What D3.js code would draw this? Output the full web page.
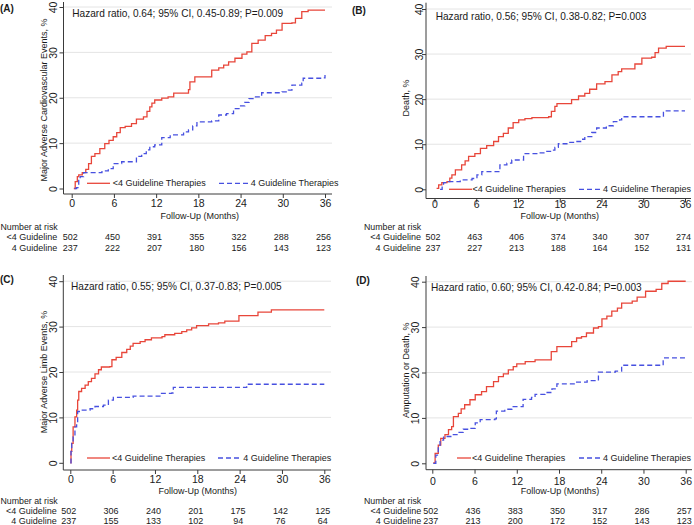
<!DOCTYPE html>
<html>
<head>
<meta charset="utf-8">
<script src="https://cdn.jsdelivr.net/npm/d3@7"></script>
<style>
  html, body { margin: 0; padding: 0; background: #ffffff; }
  svg { display: block; }
  text { font-family: "Liberation Sans", Arial, Helvetica, sans-serif; fill: #1a1a1a; }
</style>
</head>
<body>
<svg id="chart" width="694" height="525"></svg>
<script>
// ---------------- DATA ----------------
const months = [0, 6, 12, 18, 24, 30, 36];
const yTicks = [0, 10, 20, 30, 40];
const panelLabels = ["(A)", "(B)", "(C)", "(D)"];
const yTitles = [
  "Major Adverse Cardiovascular Events, %",
  "Death, %",
  "Major Adverse Limb Events, %",
  "Amputation or Death, %"
];
const xTitle = "Follow-Up (Months)";
const hazardTexts = [
  "Hazard ratio, 0.64; 95% CI, 0.45-0.89; P=0.009",
  "Hazard ratio, 0.56; 95% CI, 0.38-0.82; P=0.003",
  "Hazard ratio, 0.55; 95% CI, 0.37-0.83; P=0.005",
  "Hazard ratio, 0.60; 95% CI, 0.42-0.84; P=0.003"
];
const seriesNames = ["<4 Guideline Therapies", "4 Guideline Therapies"];
const riskTitle = "Number at risk";
const riskRowLabels = ["<4 Guideline", "4 Guideline"];

// Numbers at risk (per panel, per group) at months 0..36
const riskLess4A = [502, 450, 391, 355, 322, 288, 256];
const riskFourA  = [237, 222, 207, 180, 156, 143, 123];
const riskLess4B = [502, 463, 406, 374, 340, 307, 274];
const riskFourB  = [237, 227, 213, 188, 164, 152, 131];
const riskLess4C = [502, 306, 240, 201, 175, 142, 125];
const riskFourC  = [237, 155, 133, 102, 94, 76, 64];
const riskLess4D = [502, 436, 383, 350, 317, 286, 257];
const riskFourD  = [237, 213, 200, 172, 152, 143, 123];

// Kaplan-Meier cumulative incidence curves: [month, percent]
const curveLess4A = [[0.3,0],[0.5,1.5],[0.8,2.6],[1.0,3.0],[1.5,3.5],[2.0,4.2],[2.4,5.5],[2.8,7.1],[3.3,7.7],[4.0,8.8],[4.7,9.9],[5.3,10.6],[5.9,11.4],[6.4,12.3],[6.9,13.4],[7.6,13.7],[8.5,14.3],[9.2,15.3],[10.2,15.8],[10.7,17.0],[11.1,18.0],[11.4,18.8],[11.8,19.5],[12.8,19.9],[13.7,20.2],[14.5,21.0],[16.6,21.8],[16.8,23.5],[17.5,24.6],[19.9,26.1],[20.9,26.6],[21.6,27.2],[22.3,27.9],[23.2,28.7],[24.2,29.6],[24.9,30.1],[25.6,32.0],[26.5,32.7],[27.5,33.7],[28.4,34.2],[29.1,34.9],[29.9,36.4],[31.3,36.5],[31.8,37.5],[32.7,39.0],[33.6,39.3],[36,39.3]];
const curveFourA = [[0.4,0],[0.7,0.2],[1.0,1.8],[1.2,2.6],[1.7,3.5],[4.3,3.9],[5.2,4.4],[5.9,5.5],[7.1,5.9],[9.2,7.1],[9.95,7.7],[10.6,8.5],[11.1,9.2],[11.8,9.6],[12.8,11.2],[14.0,11.8],[15.9,12.5],[16.6,12.9],[17.2,13.8],[17.8,14.7],[19.9,14.9],[20.9,16.2],[22.0,16.5],[23.0,17.6],[23.9,18.2],[24.6,19.0],[25.2,19.8],[26.0,20.2],[27.0,21.1],[29.9,21.3],[30.8,21.7],[31.3,22.8],[32.7,23.2],[32.9,24.3],[35.8,24.4],[36,25.0]];
const curveLess4B = [[0.3,0.2],[0.6,1.0],[1.05,1.5],[1.8,1.7],[2.2,2.5],[2.5,3.2],[3.0,4.3],[3.9,5.4],[4.4,6.3],[4.9,7.3],[5.8,7.9],[6.6,9.1],[7.5,9.7],[8.5,10.6],[9.2,11.7],[9.9,12.4],[10.6,13.6],[11.3,14.8],[12.1,15.4],[13.0,15.7],[14.0,15.9],[16.4,16.1],[16.8,17.3],[17.3,18.4],[17.6,19.0],[19.7,19.9],[20.7,20.7],[21.6,21.3],[22.3,22.2],[23.3,23.4],[24.5,23.9],[25.5,25.4],[26.4,26.1],[26.9,26.7],[28.8,27.8],[29.8,29.1],[31.2,29.3],[31.7,30.3],[32.2,31.3],[33.3,31.7],[36,31.7]];
const curveFourB = [[0.8,0],[1.1,1.0],[1.3,1.5],[2.0,1.7],[3.7,2.1],[5.4,2.4],[6.1,3.2],[6.8,3.9],[9.4,5.4],[10.4,5.8],[11.1,6.5],[12.8,7.9],[14.9,8.1],[15.9,8.4],[16.8,8.7],[17.3,9.3],[17.8,10.1],[19.2,10.4],[20.2,10.6],[21.1,11.1],[21.6,11.7],[22.6,12.6],[23.3,13.6],[24.7,14.1],[25.7,15.0],[26.6,15.4],[26.9,16.1],[32.9,17.4],[36,17.4]];
const curveLess4C = [[0,0],[0.1,2.5],[0.2,4.3],[0.4,7.9],[0.66,10.1],[0.9,11.6],[1.04,13.8],[1.2,15.7],[1.6,16.4],[2.1,17.1],[2.55,17.9],[3.0,18.6],[3.5,19.6],[4.0,20.5],[4.4,21.1],[5.6,21.2],[5.9,22.7],[6.5,23.2],[7.3,24.3],[8.0,25.0],[8.5,25.7],[8.9,26.3],[9.9,26.7],[10.6,27.1],[11.5,27.5],[13.0,27.8],[13.4,28.2],[14.8,28.5],[15.8,28.9],[16.5,29.3],[17.2,29.7],[17.9,30.2],[19.6,30.6],[21.0,30.8],[21.9,31.2],[23.9,32.4],[26.6,33.2],[28.5,33.7],[36,33.7]];
const curveFourC = [[0,0],[0.1,2.5],[0.2,4.3],[0.4,5.7],[0.66,7.9],[0.9,8.7],[1.04,11.3],[1.6,11.6],[2.8,11.9],[3.5,12.4],[4.7,12.7],[5.4,13.8],[6.1,14.4],[8.9,14.7],[12.7,15.3],[14.4,15.4],[14.6,16.6],[25.0,17.3],[36,17.3]];
const curveLess4D = [[0.14,0.1],[0.4,2.2],[0.85,4.0],[1.2,5.5],[1.8,6.3],[2.3,7.4],[2.75,8.1],[3.0,10.3],[3.7,11.0],[4.1,12.0],[4.6,12.9],[5.35,14.0],[6.1,15.1],[7.0,15.8],[7.7,16.9],[8.7,18.0],[9.4,19.1],[10.1,19.7],[10.8,20.6],[11.5,21.3],[12.0,21.9],[13.2,22.4],[14.6,22.8],[16.9,24.6],[17.7,25.7],[19.8,26.8],[20.5,27.6],[21.2,27.9],[21.9,28.7],[22.9,29.8],[23.6,30.1],[24.1,31.8],[24.8,32.4],[25.5,33.5],[26.3,34.2],[26.9,35.3],[28.4,35.7],[29.1,36.6],[30.3,37.9],[31.8,38.3],[32.6,39.6],[33.5,40.1],[36,40.1]];
const curveFourD = [[0.14,0],[0.5,1.8],[0.85,3.7],[1.1,5.1],[1.6,5.9],[2.75,6.3],[3.7,6.8],[4.4,7.5],[5.35,7.7],[6.1,8.9],[6.8,9.6],[8.9,9.8],[9.1,11.5],[10.3,11.9],[11.3,12.5],[12.9,14.1],[14.1,14.5],[14.6,15.2],[16.0,15.6],[17.0,16.4],[17.7,17.5],[20.3,17.9],[22.0,18.2],[23.6,20.1],[26.0,20.3],[26.9,21.6],[32.8,23.2],[36,23.2]];

const panelCurves = [
  [curveLess4A, curveFourA],
  [curveLess4B, curveFourB],
  [curveLess4C, curveFourC],
  [curveLess4D, curveFourD]
];
const panelRisk = [
  [riskLess4A, riskFourA],
  [riskLess4B, riskFourB],
  [riskLess4C, riskFourC],
  [riskLess4D, riskFourD]
];

// ---------------- LAYOUT (positions / styles) ----------------
const layout = [
  { axisX: 63.5, x0: 71.7, x1: 325,   y0: 188.5, y1: 7,     axisY: 194,   top: 2,   right: 332,
    yLabX: 53,  yTitleX: 43.5, yTitleY: 100, tickLabY: 203.5, xTitleX: 199.7, xTitleY: 216,
    riskTitleX: 0.5, riskTitleY: 227, riskRowY: [237.3, 247.7], riskLabRight: 57.3,
    hazX: 72.3, hazY: 13.3, tagX: 0, tagY: 8.5,
    leg: { y: 183.3, r: [87, 110], rt: 112.7, b: [219, 248], bt: 250.7 } },
  { axisX: 426, x0: 434.5, x1: 685,   y0: 189.3, y1: 9,     axisY: 198.5, top: 2.7, right: 691,
    yLabX: 419.5, yTitleX: 405.7, yTitleY: 98, tickLabY: 204.5, xTitleX: 559.8, xTitleY: 216,
    riskTitleX: 364, riskTitleY: 227, riskRowY: [237.3, 247.7], riskLabRight: 421,
    hazX: 435.7, hazY: 16, tagX: 352, tagY: 10,
    leg: { y: 189.3, r: [449, 472], rt: 472.5, b: [579, 601], bt: 603 } },
  { axisX: 63.3, x0: 70.3, x1: 324.3, y0: 462.8, y1: 281.2, axisY: 470,   top: 275, right: 331,
    yLabX: 53,  yTitleX: 43.5, yTitleY: 372, tickLabY: 479.5, xTitleX: 197.8, xTitleY: 490.7,
    riskTitleX: 0.5, riskTitleY: 501, riskRowY: [511, 521], riskLabRight: 56.7,
    hazX: 71, hazY: 286, tagX: 0, tagY: 279.5,
    leg: { y: 458, r: [87, 110], rt: 112, b: [218, 241], bt: 243.3 } },
  { axisX: 426, x0: 432.3, x1: 685.7, y0: 463.3, y1: 281.7, axisY: 469.7, top: 276, right: 692,
    yLabX: 415, yTitleX: 405.7, yTitleY: 370.3, tickLabY: 481, xTitleX: 560, xTitleY: 490.7,
    riskTitleX: 364, riskTitleY: 501, riskRowY: [511, 521], riskLabRight: 421.3,
    hazX: 431, hazY: 287.7, tagX: 356, tagY: 280.5,
    leg: { y: 458, r: [457, 471], rt: 472, b: [579, 601], bt: 603 } }
];

const colors = ["#e8463a", "#4750e0"];
const dashes = [null, "5,3"];
const axisColor = "#3a3a3a";
const gridColor = "#e4e4e4";

// ---------------- DRAW ----------------
const svg = d3.select("#chart");

layout.forEach((L, i) => {
  const g = svg.append("g");
  const x = d3.scaleLinear().domain([0, 36]).range([L.x0, L.x1]);
  const y = d3.scaleLinear().domain([0, 40]).range([L.y0, L.y1]);

  // gridlines
  g.append("g").selectAll("line")
    .data(yTicks.filter(t => t > 0))
    .join("line")
    .attr("x1", L.axisX).attr("x2", L.right)
    .attr("y1", d => y(d)).attr("y2", d => y(d))
    .attr("stroke", gridColor).attr("stroke-width", 1);

  // axis lines
  g.append("line").attr("x1", L.axisX).attr("x2", L.axisX)
    .attr("y1", L.top).attr("y2", L.axisY)
    .attr("stroke", axisColor).attr("stroke-width", 1);
  g.append("line").attr("x1", L.axisX).attr("x2", L.right)
    .attr("y1", L.axisY).attr("y2", L.axisY)
    .attr("stroke", axisColor).attr("stroke-width", 1);

  // x axis ticks
  const xa = g.append("g").attr("transform", `translate(0,${L.axisY})`)
    .call(d3.axisBottom(x).tickValues(months).tickSize(4).tickFormat(d3.format("d")));
  xa.select(".domain").remove();
  xa.selectAll(".tick line").attr("stroke", axisColor);
  xa.selectAll(".tick text")
    .attr("y", L.tickLabY - L.axisY).attr("dy", "0.35em")
    .attr("font-size", "10.5px").attr("fill", "#1a1a1a")
    .attr("font-family", '"Liberation Sans", Arial, sans-serif');

  // y axis ticks
  const ya = g.append("g").attr("transform", `translate(${L.axisX},0)`)
    .call(d3.axisLeft(y).tickValues(yTicks).tickSize(4).tickFormat(d3.format("d")));
  ya.select(".domain").remove();
  ya.selectAll(".tick line").attr("stroke", axisColor);
  ya.selectAll(".tick text")
    .attr("x", null).attr("dy", "0.35em")
    .attr("text-anchor", "middle")
    .attr("transform", `translate(${L.yLabX - L.axisX},0) rotate(-90)`)
    .attr("font-size", "10.5px").attr("fill", "#1a1a1a")
    .attr("font-family", '"Liberation Sans", Arial, sans-serif');

  // y title
  g.append("text")
    .attr("transform", `translate(${L.yTitleX},${L.yTitleY}) rotate(-90)`)
    .attr("text-anchor", "middle").attr("dy", "0.35em")
    .attr("font-size", "9px")
    .text(yTitles[i]);

  // x title
  g.append("text")
    .attr("x", L.xTitleX).attr("y", L.xTitleY).attr("dy", "0.35em")
    .attr("text-anchor", "middle").attr("font-size", "9px")
    .text(xTitle);

  // hazard text
  g.append("text")
    .attr("x", L.hazX).attr("y", L.hazY).attr("dy", "0.35em")
    .attr("font-size", "10.1px")
    .text(hazardTexts[i]);

  // panel tag
  g.append("text")
    .attr("x", L.tagX).attr("y", L.tagY).attr("dy", "0.35em")
    .attr("font-size", "10px").attr("font-weight", "bold")
    .text(panelLabels[i]);

  // curves
  const line = d3.line()
    .x(d => x(d[0])).y(d => y(d[1]))
    .curve(d3.curveStepAfter);
  panelCurves[i].forEach((c, k) => {
    g.append("path")
      .datum(c)
      .attr("d", line)
      .attr("fill", "none")
      .attr("stroke", colors[k])
      .attr("stroke-width", 1.3)
      .attr("stroke-dasharray", dashes[k]);
  });

  // legend
  const lg = L.leg;
  g.append("line").attr("x1", lg.r[0]).attr("x2", lg.r[1]).attr("y1", lg.y).attr("y2", lg.y)
    .attr("stroke", colors[0]).attr("stroke-width", 1.3);
  g.append("text").attr("x", lg.rt).attr("y", lg.y).attr("dy", "0.35em")
    .attr("font-size", "9px").text(seriesNames[0]);
  g.append("line").attr("x1", lg.b[0]).attr("x2", lg.b[1]).attr("y1", lg.y).attr("y2", lg.y)
    .attr("stroke", colors[1]).attr("stroke-width", 1.3).attr("stroke-dasharray", dashes[1]);
  g.append("text").attr("x", lg.bt).attr("y", lg.y).attr("dy", "0.35em")
    .attr("font-size", "9px").text(seriesNames[1]);

  // risk table
  g.append("text")
    .attr("x", L.riskTitleX).attr("y", L.riskTitleY).attr("dy", "0.35em")
    .attr("text-anchor", "start").attr("font-size", "8.8px")
    .text(riskTitle);
  panelRisk[i].forEach((row, k) => {
    g.append("text")
      .attr("x", L.riskLabRight).attr("y", L.riskRowY[k]).attr("dy", "0.35em")
      .attr("text-anchor", "end").attr("font-size", "9px")
      .text(riskRowLabels[k]);
    g.append("g").selectAll("text")
      .data(row)
      .join("text")
      .attr("x", (d, j) => x(months[j]) - 1.5)
      .attr("y", L.riskRowY[k]).attr("dy", "0.35em")
      .attr("text-anchor", "middle").attr("font-size", "9px")
      .text(d => d);
  });
});
</script>
</body>
</html>
